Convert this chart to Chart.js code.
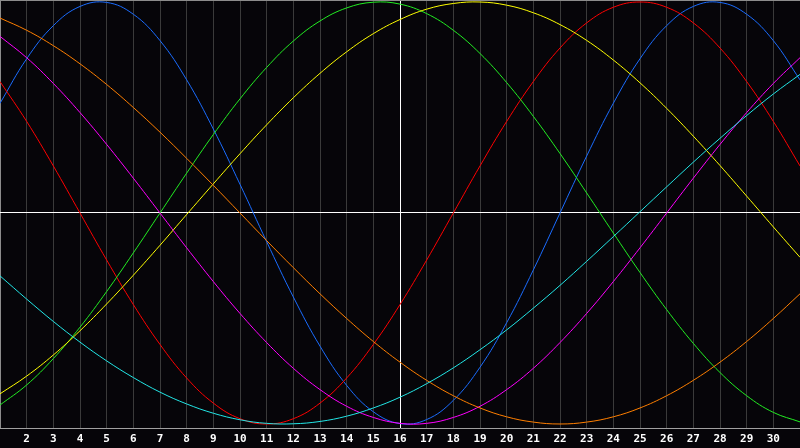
<!DOCTYPE html>
<html>
<head>
<meta charset="utf-8">
<title>Biorhythm</title>
<script src="https://cdn.jsdelivr.net/npm/chart.js@4/dist/chart.umd.min.js"></script>
<style>
    html, body { margin: 0; padding: 0; background: #060509; }
    #wrap { width: 800px; height: 448px; }
</style>
</head>
<body>
<div id="wrap"><canvas id="bioChart" width="800" height="448"></canvas></div>
<script>
const DAYS = [1,2,3,4,5,6,7,8,9,10,11,12,13,14,15,16,17,18,19,20,21,22,23,24,25,26,27,28,29,30,31];
const TICK_LABELS = ['2','3','4','5','6','7','8','9','10','11','12','13','14','15','16','17','18','19','20','21','22','23','24','25','26','27','28','29','30'];

// values, one per day
const BLUE = [0.52,0.731,0.888,0.979,0.998,0.942,0.817,0.631,0.398,0.136,-0.136,-0.398,-0.631,-0.817,-0.942,-0.998,-0.979,-0.888,-0.731,-0.52,-0.27,0,0.27,0.52,0.731,0.888,0.979,0.998,0.942,0.817,0.631];
const RED = [0.623,0.434,0.223,0,-0.223,-0.434,-0.623,-0.782,-0.901,-0.975,-1,-0.975,-0.901,-0.782,-0.623,-0.434,-0.223,0,0.223,0.434,0.623,0.782,0.901,0.975,1,0.975,0.901,0.782,0.623,0.434,0.223];
const GREEN = [-0.91,-0.815,-0.69,-0.541,-0.372,-0.189,0,0.189,0.372,0.541,0.69,0.815,0.91,0.972,0.999,0.99,0.945,0.866,0.756,0.618,0.458,0.282,0.095,-0.095,-0.282,-0.458,-0.618,-0.756,-0.866,-0.945,-0.99];
const MAGENTA = [0.837,0.736,0.614,0.476,0.325,0.165,0,-0.165,-0.325,-0.476,-0.614,-0.736,-0.837,-0.916,-0.969,-0.997,-0.997,-0.969,-0.916,-0.837,-0.736,-0.614,-0.476,-0.325,-0.165,0,0.165,0.325,0.476,0.614,0.736];
const YELLOW = [-0.857,-0.773,-0.673,-0.558,-0.431,-0.295,-0.153,-0.007,0.138,0.281,0.418,0.546,0.662,0.764,0.85,0.917,0.966,0.993,1,0.985,0.949,0.893,0.818,0.725,0.617,0.496,0.364,0.225,0.08,-0.066,-0.21];
const ORANGE = [0.924,0.866,0.793,0.707,0.609,0.5,0.383,0.259,0.131,0,-0.131,-0.259,-0.383,-0.5,-0.609,-0.707,-0.793,-0.866,-0.924,-0.966,-0.991,-1,-0.991,-0.966,-0.924,-0.866,-0.793,-0.707,-0.609,-0.5,-0.383];
const CYAN = [-0.298,-0.408,-0.514,-0.612,-0.701,-0.78,-0.849,-0.905,-0.949,-0.98,-0.997,-0.999,-0.988,-0.963,-0.924,-0.873,-0.809,-0.734,-0.648,-0.554,-0.451,-0.343,-0.229,-0.112,0.006,0.124,0.241,0.354,0.462,0.564,0.657];

const Y_MIN = -1.019;
const Y_MAX = 1.0095;

function toPoints(values) {
    return values.map((v, i) => ({ x: DAYS[i], y: v }));
}

function makeSet(label, values, color) {
    return {
        label: label,
        data: toPoints(values),
        borderColor: color,
        borderWidth: 1,
        pointRadius: 0,
        tension: 0.4,
        fill: false
    };
}

// kill the extra room Chart.js keeps for edge labels
function noPad(scale) {
    scale.paddingLeft = 0;
    scale.paddingRight = 0;
    scale.paddingTop = 0;
    scale.paddingBottom = 0;
}

const bgPlugin = {
    id: 'bg',
    beforeDraw(chart) {
        const c = chart.ctx;
        c.save();
        c.fillStyle = '#060509';
        c.fillRect(0, 0, chart.width, chart.height);
        c.restore();
    }
};

const ctx = document.getElementById('bioChart').getContext('2d');
new Chart(ctx, {
    type: 'line',
    data: {
        datasets: [
            makeSet('cyan', CYAN, '#22e6e6'),
            makeSet('orange', ORANGE, '#ff7f00'),
            makeSet('magenta', MAGENTA, '#ff00ff'),
            makeSet('yellow', YELLOW, '#ffff00'),
            makeSet('green', GREEN, '#22ee22'),
            makeSet('red', RED, '#ff0000'),
            makeSet('blue', BLUE, '#1a6cff')
        ]
    },
    options: {
        responsive: false,
        animation: false,
        devicePixelRatio: 1,
        layout: { padding: 0 },
        scales: {
            x: {
                type: 'linear',
                min: 1,
                max: 31,
                afterFit(scale) { scale.height = 20; noPad(scale); },
                afterBuildTicks(scale) {
                    scale.ticks = DAYS.map(d => ({ value: d }));
                },
                ticks: {
                    autoSkip: false,
                    maxRotation: 0,
                    padding: 5,
                    color: '#ffffff',
                    font: { family: 'DejaVu Sans Mono', size: 11, weight: 'bold' },
                    callback: (v) => TICK_LABELS.includes(String(v)) ? String(v) : ''
                },
                grid: {
                    drawTicks: false,
                    lineWidth: 1,
                    color: (c) => {
                        if (c.tick && c.tick.value === 16) return '#ffffff';
                        if (c.tick && c.tick.value === 1) return '#8c8c8c';
                        return '#3a3a3a';
                    }
                },
                border: { display: true, color: '#a0a0a0', width: 1 }
            },
            y: {
                min: Y_MIN,
                max: Y_MAX,
                afterFit(scale) { scale.width = 0; noPad(scale); },
                afterBuildTicks(scale) {
                    scale.ticks = [{ value: Y_MAX }, { value: 0 }];
                },
                ticks: { display: false },
                grid: {
                    drawTicks: false,
                    lineWidth: 1,
                    color: (c) => (c.tick && c.tick.value === 0) ? '#ffffff' : '#8c8c8c'
                },
                border: { display: false }
            }
        },
        plugins: {
            legend: { display: false },
            tooltip: { enabled: false }
        }
    },
    plugins: [bgPlugin]
});
</script>
</body>
</html>
